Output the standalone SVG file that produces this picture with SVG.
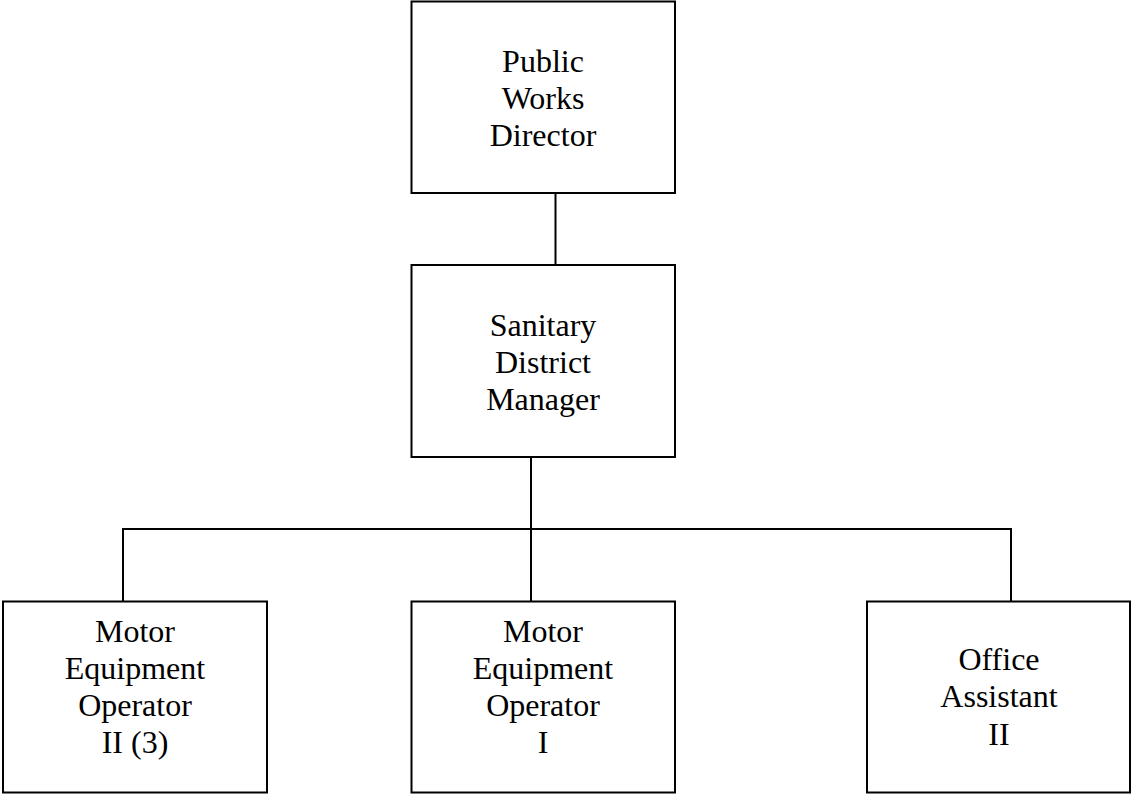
<svg xmlns="http://www.w3.org/2000/svg" width="1131" height="794" viewBox="0 0 1131 794">
  <style>
    .box { fill: #ffffff; stroke: #000000; stroke-width: 2; }
    .link { fill: none; stroke: #000000; stroke-width: 2; }
    text { font-family: "Liberation Serif", "Times New Roman", serif; font-size: 32px; fill: #000000; text-anchor: middle; }
  </style>
  <rect width="1131" height="794" fill="#ffffff"/>

  <g id="connectors">
    <line class="link" x1="555.5" y1="193" x2="555.5" y2="265"/>
    <line class="link" x1="531" y1="457" x2="531" y2="601.5"/>
    <polyline class="link" points="123,601.5 123,529 1011,529 1011,601.5"/>
  </g>

  <g id="public-works-director">
    <rect class="box" x="411.5" y="1.5" width="263.5" height="191.5"/>
    <text x="543" y="72">Public</text>
    <text x="543" y="109">Works</text>
    <text x="543" y="146">Director</text>
  </g>

  <g id="sanitary-district-manager">
    <rect class="box" x="411.5" y="265" width="263.5" height="192"/>
    <text x="543" y="336">Sanitary</text>
    <text x="543" y="373">District</text>
    <text x="543" y="410">Manager</text>
  </g>

  <g id="motor-equipment-operator-ii">
    <rect class="box" x="3" y="601.5" width="264" height="191"/>
    <text x="135" y="642">Motor</text>
    <text x="135" y="679">Equipment</text>
    <text x="135" y="716">Operator</text>
    <text x="135" y="753">II (3)</text>
  </g>

  <g id="motor-equipment-operator-i">
    <rect class="box" x="411.5" y="601.5" width="263.5" height="191"/>
    <text x="543" y="642">Motor</text>
    <text x="543" y="679">Equipment</text>
    <text x="543" y="716">Operator</text>
    <text x="543" y="753">I</text>
  </g>

  <g id="office-assistant-ii">
    <rect class="box" x="867" y="601.5" width="263" height="191"/>
    <text x="999" y="670">Office</text>
    <text x="999" y="707">Assistant</text>
    <text x="999" y="745">II</text>
  </g>
</svg>
